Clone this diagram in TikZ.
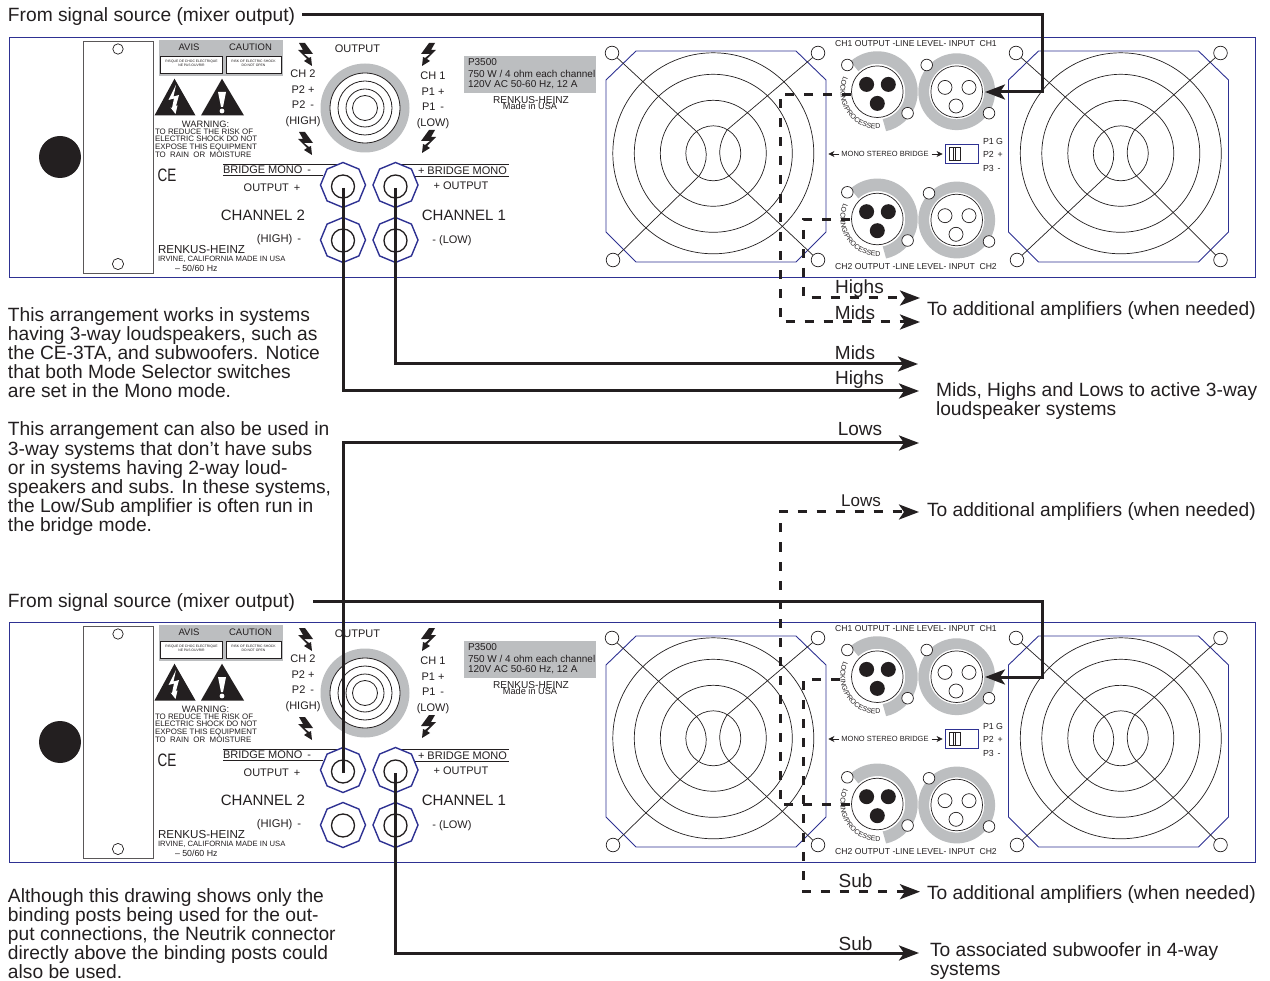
\documentclass[tikz,border=0pt]{standalone}
\usepackage{fontspec}
\setmainfont{Liberation Sans}
\usetikzlibrary{arrows.meta,shapes.geometric,decorations.text}
\definecolor{panelblue}{HTML}{2E3192}
\definecolor{ringgray}{HTML}{BCBEC0}
\definecolor{ink}{HTML}{231F20}
\tikzset{
  lbl/.style={inner sep=0pt,outer sep=0pt,text=ink},
  wire/.style={draw=ink,line width=3pt},
  dwire/.style={draw=ink,line width=3pt,dash pattern=on 9pt off 10pt},
  bigtip/.style={-{Stealth[length=20pt,width=15pt,inset=5pt]}},
  thin line/.style={draw=ink,line width=0.7pt},
  hole/.style={draw=ink,line width=0.7pt,fill=white},
  post/.style={regular polygon,regular polygon sides=8,shape border rotate=22.5,minimum size=45pt,inner sep=0pt,draw=panelblue,line width=1.4pt,fill=white},
  postin/.style={circle,minimum size=23pt,inner sep=0pt,draw=ink,line width=1.3pt},
}
\def\pfx{}
\newcommand{\lb}[5][center]{\node[lbl,anchor=#1,font=\fontsize{#4}{#4}\selectfont] (\pfx#2) at (#3) {#5};}
\newcommand{\para}[4]{\node[lbl,anchor=north west,align=left,font=\fontsize{19.2}{19.1}\selectfont] (#1) at (#2,#3) {#4};}
\newcommand{\bolt}[3]{\begin{scope}[shift={(#1,#2)},x=#3pt]
  \fill[ink] (1,-11)--(7,-11)--(3,-4)--(8,-4)--(-1,5)--(2,7)--(-6,12)--(-5,3)--(-3,4)--(2,0)--(-7,0)--cycle;
\end{scope}}
% fan: #1 outline offset, #2 extra offset of the rings, #3 extra offset of the left holes
\newcommand{\fan}[3]{\begin{scope}[shift={(#1,0)}]
  \draw[panelblue,line width=0.9pt] (606,80)--(636,51)--(796,51)--(826,80)--(826,232)--(796,262)--(636,262)--(606,232)--cycle;
  \begin{scope}[shift={(#2,0)}]
  \foreach \r in {100.5,79,53,27.5}{\draw[thin line] (713.3,153.3) circle[radius=\r pt];}
  \coordinate (fanA) at (697,132);
  \coordinate (fanB) at (699,176);
  \coordinate (fanC) at (727,130);
  \coordinate (fanD) at (729,176);
  \draw[thin line] (fanA) .. controls (709,146) and (709,162) .. (fanB);
  \draw[thin line] (fanC) .. controls (717,146) and (717,162) .. (fanD);
  \end{scope}
  \draw[thin line] (612+#3,53) -- (fanA) (fanB) -- (613+#3,260) (818,53) -- (fanC) (fanD) -- (818,260);
  \draw[hole] (612+#3,53) circle[radius=6.8pt] (818,53) circle[radius=6.8pt] (613+#3,260) circle[radius=6.8pt] (818,260) circle[radius=6.8pt];
\end{scope}}
\newcommand{\xlrout}[1]{\begin{scope}[shift={(877.3,#1)}]
  \draw[ringgray,line width=12.5pt] (0,0) ++(132:34.2pt) arc[start angle=132,end angle=-78,radius=34.2pt];
  \draw[thin line,fill=white] (0,0) circle[radius=25.8pt];
  \fill[ink] (-10.7,-7.3) circle[radius=7.5pt] (11,-7.3) circle[radius=7.5pt] (0,11.7) circle[radius=7.5pt];
  \draw[hole] (-30,-26.7) circle[radius=5.8pt] (30.3,21.5) circle[radius=5.8pt];
  \path[decorate,decoration={text along path,text align={fit to path},text={|\fontsize{7}{7}\selectfont\color{ink}|LOCKING/PROCESSED}}] (0,0) ++(155:37pt) arc[start angle=155,end angle=272,radius=37pt];
\end{scope}}
\newcommand{\xlrin}[2]{\begin{scope}[shift={(956.7,#1)}]
  \draw[ringgray,line width=10.8pt] (0,0) circle[radius=33pt];
  \draw[thin line,fill=white] (0,0) circle[radius=25.8pt];
  \draw[hole] (-11.7,-4.3) circle[radius=7pt] (12.3,-4.3) circle[radius=7pt] (-0.7,14.3) circle[radius=7pt];
  \draw[hole] (#2,-26.7) circle[radius=5.8pt] (32.3,21.5) circle[radius=5.8pt];
\end{scope}}
\newcommand{\ampunit}[2]{\def\pfx{#1}\begin{scope}[shift={(0,#2)}]
  \draw[panelblue,line width=0.9pt] (9,37) rectangle (1255,277);
  \fill[ink] (60,157) circle[radius=21pt];
  \draw[draw=ink!75,line width=0.9pt] (83,41) rectangle (153,273);
  \draw[thin line] (118,49) circle[radius=5.2pt] (118,264) circle[radius=5.6pt];
  \fill[ringgray] (159,40) rectangle (283,76);
  \draw[ink,fill=white,line width=0.8pt] (160.5,56) rectangle (222.5,73);
  \draw[ink,fill=white,line width=0.8pt] (226,56) rectangle (281,73);
  \lb{avis}{189,47.5}{9.5}{AVIS}
  \lb{caution}{250.5,47.5}{9.5}{CAUTION}
  \node[lbl,align=center,font=\fontsize{3.4}{4}\selectfont] (#1risque) at (191.5,63) {RISQUE DE CHOC ELECTRIQUE\\NE PAS OUVRIR};
  \node[lbl,align=center,font=\fontsize{3.4}{4}\selectfont] (#1risk) at (253.5,63) {RISK OF ELECTRIC SHOCK\\DO NOT OPEN};
  \fill[ink] (174.5,78.7)--(195.5,115.5)--(154.5,115.5)--cycle;
  \fill[white] (176,85)--(168.5,100)--(174,98.5)--(172,108)--(170.5,107.5)--(175.5,114)--(177.5,105.5)--(176,106)--(179,95)--(173.5,96.5)--cycle;
  \fill[ink] (222,78.7)--(244,115.5)--(201,115.5)--cycle;
  \fill[white] (218,92)--(226,92)--(223,107)--(221,107)--cycle (222,111) circle[radius=2.4pt];
  \lb{warn}{205.5,124}{9.3}{WARNING:}
  \node[lbl,anchor=north west,align=left,font=\fontsize{7.9}{7.8}\selectfont] (#1warntxt) at (155,128.5) {TO REDUCE THE RISK OF\\ELECTRIC SHOCK DO NOT\\EXPOSE THIS EQUIPMENT\\TO \ RAIN \ OR \ MOISTURE};
  \node[lbl,font=\fontsize{18}{18}\selectfont,xscale=0.75,transform shape] (#1ce) at (167,175) {CE};
  \bolt{306}{54}{-1}
  \bolt{306}{143}{-1}
  \bolt{428}{54}{1}
  \bolt{428}{141}{1}
  \lb{output}{357.5,48.7}{11}{OUTPUT}
  \lb{ch2}{303,73.7}{11}{CH 2}
  \lb{p2a}{303,89.7}{11}{P2 +}
  \lb{p2b}{303,104.7}{11}{P2 \,-}
  \lb{high}{303,121.5}{11}{(HIGH)}
  \lb{ch1}{433,75.7}{11}{CH 1}
  \lb{p1a}{433,91.7}{11}{P1 +}
  \lb{p1b}{433,106.7}{11}{P1 \,-}
  \lb{low}{433,123.5}{11}{(LOW)}
  \fill[ringgray] (365,108) circle[radius=44.5pt];
  \fill[white] (365,108) circle[radius=35pt];
  \foreach \r in {35,27,19,12.5}{\draw[ink,line width=0.8pt] (365,108) circle[radius=\r pt];}
  \fill[ringgray] (464,56) rectangle (596,93);
  \lb[west]{model}{468,62.5}{10}{P3500}
  \lb[west]{power}{468,73.5}{10}{750 W / 4 ohm each channel}
  \lb[west]{mains}{468,85}{10}{120V AC 50-60 Hz, 12 A}
  \lb{rhb}{531,100}{10.1}{RENKUS-HEINZ}
  \lb{usa}{530,106.5}{9.2}{Made in USA}
  \draw[ink,line width=0.9pt] (223,164)--(341,164) (223,175.5)--(323,175.5) (393,164.5)--(509,164.5) (413,176)--(509,176);
  \lb[west]{bmr}{223,169.5}{11}{BRIDGE MONO \,-}
  \lb[west]{bml}{418,171}{11}{+ BRIDGE MONO}
  \lb{op}{272,187.5}{11}{OUTPUT \,+}
  \lb{on}{461,185.5}{11}{+ OUTPUT}
  \lb{chan2}{263,215}{15}{CHANNEL 2}
  \lb{chan1}{464,215}{15}{CHANNEL 1}
  \lb{hm}{279,239.5}{11.2}{(HIGH) \,-}
  \lb{lm}{452,240.5}{11}{- (LOW)}
  \lb[west]{rh}{158,249.5}{11.6}{RENKUS-HEINZ}
  \lb[west]{irv}{158,259}{7.65}{IRVINE, CALIFORNIA MADE IN USA}
  \lb[west]{hz}{175,268}{8.8}{– 50/60 Hz}
  \node[post] (#1pa) at (343,185) {};
  \node[post] (#1pb) at (395.5,185) {};
  \node[post] (#1pc) at (343,240) {};
  \node[post] (#1pd) at (395.5,240) {};
  \node[postin] at (343,186.5) {};
  \node[postin] at (395.5,186.5) {};
  \node[postin] at (343,240.5) {};
  \node[postin] at (395.5,240.5) {};
  \fan{0}{0}{0}
  \fan{402.5}{5}{1.5}
  \lb{ttop}{916,44}{8.6}{CH1 OUTPUT -LINE LEVEL- INPUT \ CH1}
  \lb{tbot}{916,267}{8.6}{CH2 OUTPUT -LINE LEVEL- INPUT \ CH2}
  \xlrout{91.7}
  \xlrin{91.7}{-30}
  \xlrout{219}
  \xlrin{220}{-27.7}
  \lb{msb}{885,154}{7.5}{MONO STEREO BRIDGE}
  \draw[ink,line width=0.7pt,-{Stealth[length=6pt,width=6pt]}] (#1msb.west) ++(-2,0) -- ++(-11,0);
  \draw[ink,line width=0.7pt,-{Stealth[length=6pt,width=6pt]}] (#1msb.east) ++(3,0) -- ++(11,0);
  \draw[panelblue,line width=0.9pt] (945.7,144.3) rectangle (978.3,163.3);
  \draw[ink,line width=0.6pt] (949.3,147.3) rectangle (960,160.7) (953.5,147.3)--(953.5,160.7) (955.5,147.3)--(955.5,160.7);
  \lb[west]{swa}{983,141}{8.8}{P1 G}
  \lb[west]{swb}{983,154.5}{8.8}{P2 \,+}
  \lb[west]{swc}{983,168}{8.8}{P3 \,-}
  \coordinate (#1inp) at (985,92);
  \coordinate (#1turn) at (1042,92);
  \coordinate (#1outa) at (851,94.5);
  \coordinate (#1outb) at (850,219.5);
\end{scope}\def\pfx{}}
\begin{document}
\begin{tikzpicture}[x=1pt,y=-1pt]
\useasboundingbox (0,0) rectangle (1270,981);
\fill[white] (0,0) rectangle (1270,981);
\ampunit{u}{0}
\ampunit{l}{585}
\lb[west]{fromA}{8,16.5}{19.2}{From signal source (mixer output)}
\lb[west]{fromB}{8,603}{19.2}{From signal source (mixer output)}
\para{parA}{8}{307.5}{This arrangement works in systems\\having 3-way loudspeakers, such as\\the CE-3TA, and subwoofers.  Notice\\that both Mode Selector switches\\are set in the Mono mode.}
\para{parB}{8}{422}{This arrangement can also be used in\\3-way systems that don’t have subs\\or in systems having 2-way loud-\\speakers and subs.  In these systems,\\the Low/Sub amplifier is often run in\\the bridge mode.}
\para{parC}{8}{888.5}{Although this drawing shows only the\\binding posts being used for the out-\\put connections, the Neutrik connector\\directly above the binding posts could\\also be used.}
\lb[west]{addA}{927,310.5}{19.2}{To additional amplifiers (when needed)}
\lb[west]{addB}{927,512}{19.2}{To additional amplifiers (when needed)}
\lb[west]{addC}{927,895}{19.2}{To additional amplifiers (when needed)}
\node[lbl,anchor=north west,align=left,font=\fontsize{19.2}{19}\selectfont] (mhl) at (936,383) {Mids, Highs and Lows to active 3-way\\loudspeaker systems};
\node[lbl,anchor=north west,align=left,font=\fontsize{19.2}{19}\selectfont] (assoc) at (930,942.5) {To associated subwoofer in 4-way\\systems};
\lb{highsA}{859.5,288.5}{19}{Highs}
\lb{midsA}{855,313}{19}{Mids}
\lb{midsB}{855,352.5}{19}{Mids}
\lb{highsB}{859.5,380}{19}{Highs}
\lb{lowsA}{860,429}{19}{Lows}
\lb{lowsB}{861,500.5}{17}{Lows}
\lb{subA}{855.5,881}{19}{Sub}
\lb{subB}{855.5,943.5}{19}{Sub}
\coordinate (eHa) at (920,298);
\coordinate (eMa) at (920,322);
\coordinate (eMb) at (918,364);
\coordinate (eHb) at (919,391);
\coordinate (eLa) at (919,443);
\coordinate (eLb) at (919,512);
\coordinate (eSa) at (920,891.7);
\coordinate (eSb) at (919,953);
\draw[wire,bigtip] ([xshift=7pt,yshift=1.5pt]fromA.east) -| (uturn) -- (uinp);
\draw[wire,bigtip] ([xshift=18pt,yshift=1.5pt]fromB.east) -| (lturn) -- (linp);
\draw[wire,bigtip] ([yshift=-3pt]upb.center) |- (eMb);
\draw[wire,bigtip] ([yshift=-3pt]upa.center) |- (eHb);
\draw[wire,bigtip] ([yshift=-3pt]lpa.center) |- (eLa);
\draw[wire,bigtip] ([yshift=-3pt]lpb.center) |- (eSb);
\draw[dwire,bigtip] (uouta) -| (780,322) -- (eMa);
\draw[dwire,bigtip] (uoutb) -| (803.5,298) -- (eHa);
\draw[dwire,bigtip] (loutb) -| (780,512) -- (eLb);
\draw[dwire,bigtip] ([xshift=-11pt]louta) -| (803.5,891.7) -- (eSa);
\end{tikzpicture}
\end{document}
